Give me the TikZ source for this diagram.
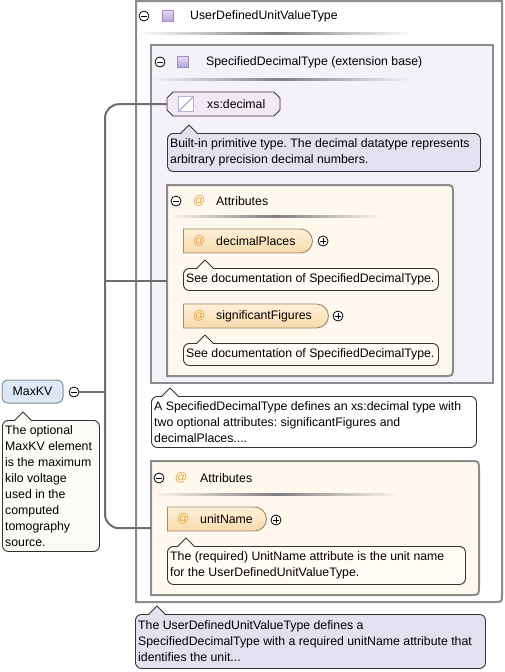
\documentclass[tikz,border=0pt]{standalone}
\usepackage{fontspec}
\setmainfont{Liberation Sans}
\usetikzlibrary{shapes.misc,calc}
\frenchspacing
\definecolor{boxline}{HTML}{8C8C8C}
\definecolor{connline}{HTML}{6E6E6E}
\definecolor{docline}{HTML}{333333}
\definecolor{lavdoc}{HTML}{E4E0EF}
\definecolor{lavbox}{HTML}{F4F2F9}
\definecolor{cream}{HTML}{FFF8EE}
\definecolor{creamdoc}{HTML}{FFFCF5}
\definecolor{attrtop}{HTML}{FFF0DA}
\definecolor{attrbot}{HTML}{F8DAAA}
\definecolor{attrline}{HTML}{9A8A70}
\definecolor{atcol}{HTML}{E9A23B}
\definecolor{maxfill}{HTML}{DCE7F7}
\definecolor{maxdoc}{HTML}{FCFCF6}
\definecolor{xsfill}{HTML}{F1E9F3}
\definecolor{sqtop}{HTML}{E2DAF3}
\definecolor{sqbot}{HTML}{B4A4D8}
\definecolor{sqline}{HTML}{9C8CC4}
\newcommand\rrboxpath[6]{\path[#1] (#2,#3) -- ({#4-#6},#3) .. controls (#4,#3) .. (#4,{#3+#6}) -- (#4,{#5-#6}) .. controls (#4,#5) .. ({#4-#6},#5) -- (#2,#5) -- cycle;}
\newcommand\docpointer[3]{%
  \fill[#3] ({#1-8},{#2+1}) -- (#1,{#2-8}) -- ({#1+8},{#2+1}) -- cycle;
  \draw[docline, line width=0.9pt, line join=round] ({#1-8},#2) -- (#1,{#2-8}) -- ({#1+8},#2);}
\newcommand\sepline[4]{\shade[left color=#4, right color=#4, middle color=black!50] (#1,{#3-1}) rectangle (#2,{#3+1});}
\tikzset{
  every node/.style={font=\fontsize{12.3}{16}\selectfont, text=black},
  conn/.style={draw=connline, line width=2pt},
  docbox/.style={draw=docline, line width=0.9pt, rounded corners=6pt, inner sep=0, anchor=north west},
  doctext/.style={anchor=west, align=left, inner sep=0},
  lbl/.style={anchor=west, inner sep=0},
  hidden/.style={inner sep=0, anchor=north west},
  circicon/.style={circle, draw=black, line width=0.8pt, fill=white, minimum size=10pt, inner sep=0},
  minusicon/.style={circicon, path picture={\draw[line width=0.8pt] ([xshift=-2.8pt]path picture bounding box.center) -- ([xshift=2.8pt]path picture bounding box.center);}},
  plusicon/.style={circicon, path picture={\draw[line width=0.8pt] ([xshift=-2.8pt]path picture bounding box.center) -- ([xshift=2.8pt]path picture bounding box.center) ([yshift=-2.8pt]path picture bounding box.center) -- ([yshift=2.8pt]path picture bounding box.center);}},
  typesq/.style={draw=sqline, line width=0.8pt, top color=sqtop, bottom color=sqbot, minimum size=11pt, inner sep=0},
  xsicon/.style={draw=sqline!70, fill=white, line width=0.8pt, minimum size=15pt, inner sep=0, path picture={\draw[sqline, line width=0.9pt] (path picture bounding box.south west) -- (path picture bounding box.north east);}},
  atsign/.style={inner sep=0, text=atcol},
  attrnode/.style={rounded rectangle, rounded rectangle west arc=none, draw=attrline, line width=0.9pt, top color=attrtop, bottom color=attrbot, inner sep=0, anchor=west, minimum height=24pt},
  boxdraw/.style={draw=boxline, line width=2pt}
}
\begin{document}
\begin{tikzpicture}[x=1pt, y=-1pt]
\useasboundingbox (0,0) rectangle (505,672);
\fill[white] (0,0) rectangle (505,672);

% outer type box
\path[boxdraw, fill=white] (136,1) -- (502,1) -- (502,594) .. controls (502,602) .. (494,602) -- (136,602) -- cycle;
\node[minusicon] (m1) at (144,16) {};
\node[typesq] (sq1) at (168,16) {};
\node[lbl] (t1) at (190,16) {UserDefinedUnitValueType};
\sepline{137}{413}{33}{white}

% inner extension base box
\path[boxdraw, fill=lavbox] (151,45) rectangle (493,383);
\node[minusicon] (m2) at (160,62) {};
\node[typesq] (sq2) at (183,62) {};
\node[lbl] (t2) at (206,62) {SpecifiedDecimalType (extension base)};
\sepline{152}{410}{79}{lavbox}

% xs:decimal
\path[draw=docline, line width=0.9pt, fill=xsfill] (173,92) -- (274,92) -- (280,98) -- (280,110) -- (274,116) -- (173,116) -- (167,110) -- (167,98) -- cycle;
\node[hidden, minimum width=113pt, minimum height=24pt] (xsdec) at (167,92) {};
\node[xsicon] (xsi) at (186,104) {};
\node[lbl] (t3) at (207,104) {xs:decimal};

\node[docbox, fill=lavdoc, minimum width=313pt, minimum height=38pt] (doc1) at (167,133) {};
\docpointer{189}{133}{lavdoc}
\node[doctext] (doc1t) at ([xshift=3pt]doc1.west) {Built-in primitive type. The decimal datatype represents\\arbitrary precision decimal numbers.};

% attributes of extension base
\rrboxpath{boxdraw, fill=cream}{167}{185}{453}{376}{9}
\node[hidden, minimum width=286pt, minimum height=191pt] (attrs1) at (167,185) {};
\node[minusicon] (m3) at (176,201) {};
\node[atsign] (at1) at (199,201) {@};
\node[lbl] (t4) at (216,201) {Attributes};
\sepline{168}{383}{216}{cream}

\node[attrnode, minimum width=129pt] (dp) at (183,241) {};
\node[atsign] (at2) at (199,241) {@};
\node[lbl] (t5) at (216,241) {decimalPlaces};
\node[plusicon] (p1) at (323,241) {};
\node[docbox, fill=creamdoc, minimum width=255pt, minimum height=22pt] (doc2) at (183,268) {};
\docpointer{205}{268}{creamdoc}
\node[doctext] (doc2t) at ([xshift=3pt]doc2.west) {See documentation of SpecifiedDecimalType.};

\node[attrnode, minimum width=145pt] (sf) at (183,316) {};
\node[atsign] (at3) at (199,316) {@};
\node[lbl] (t6) at (216,316) {significantFigures};
\node[plusicon] (p2) at (338,316) {};
\node[docbox, fill=creamdoc, minimum width=255pt, minimum height=22pt] (doc3) at (183,343) {};
\docpointer{205}{343}{creamdoc}
\node[doctext] (doc3t) at ([xshift=3pt]doc3.west) {See documentation of SpecifiedDecimalType.};

% doc of extension base
\node[docbox, fill=white, minimum width=325pt, minimum height=51pt] (doc4) at (151,396) {};
\docpointer{170}{396}{white}
\node[doctext] (doc4t) at ([xshift=3pt]doc4.west) {A SpecifiedDecimalType defines an xs:decimal type with\\two optional attributes: significantFigures and\\decimalPlaces....};

% own attributes
\rrboxpath{boxdraw, fill=cream}{151}{461}{479}{595}{9}
\node[hidden, minimum width=328pt, minimum height=134pt] (attrs2) at (151,461) {};
\node[minusicon] (m4) at (159,478) {};
\node[atsign] (at4) at (181,478) {@};
\node[lbl] (t7) at (200,478) {Attributes};
\sepline{152}{400}{494}{cream}

\node[attrnode, minimum width=99pt] (un) at (167,519) {};
\node[atsign] (at5) at (183,519) {@};
\node[lbl] (t8) at (200,519) {unitName};
\node[plusicon] (p3) at (276,520) {};
\node[docbox, fill=creamdoc, minimum width=298pt, minimum height=38pt] (doc5) at (167,546) {};
\docpointer{186}{546}{creamdoc}
\node[doctext] (doc5t) at ([xshift=3pt]doc5.west) {The (required) UnitName attribute is the unit name\\for the UserDefinedUnitValueType.};

% doc of type
\node[docbox, fill=lavdoc, minimum width=350pt, minimum height=54pt] (doc6) at (135,614) {};
\docpointer{157}{614}{lavdoc}
\node[doctext] (doc6t) at ([xshift=3pt]doc6.west) {The UserDefinedUnitValueType defines a\\SpecifiedDecimalType with a required unitName attribute that\\identifies the unit...};

% element MaxKV
\node[draw=boxline, line width=1pt, fill=maxfill, rounded corners=6pt, minimum width=61pt, minimum height=23pt, inner sep=0] (maxkv) at (32.5,391.5) {MaxKV};
\node[minusicon] (mx) at (74,392) {};
\node[docbox, fill=maxdoc, minimum width=97pt, minimum height=131pt] (doc7) at (2,420) {};
\docpointer{23}{420}{maxdoc}
\node[doctext] (doc7t) at ([xshift=3pt]doc7.west) {The optional\\MaxKV element\\is the maximum\\kilo voltage\\used in the\\computed\\tomography\\source.};

% connectors
\coordinate (jn) at (105,392);
\draw[conn] (mx.east) -- (jn);
\draw[conn, rounded corners=14pt] (xsdec.west) -| (jn) |- (attrs2.west);
\draw[conn] (jn |- attrs1.west) -- (attrs1.west);
\end{tikzpicture}
\end{document}
